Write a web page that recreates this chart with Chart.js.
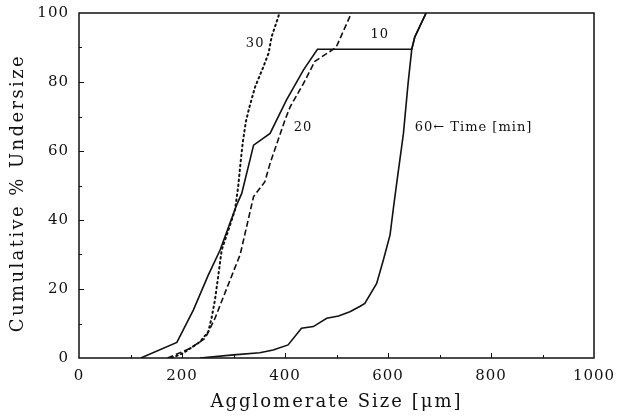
<!DOCTYPE html>
<html lang="en">
<head>
  <meta charset="utf-8">
  <title>Cumulative undersize</title>
  <script src="https://cdn.jsdelivr.net/npm/chart.js"></script>
  <style>
    body { margin: 0; background: #fff; }
  </style>
</head>
<body>
<canvas id="myChart" width="617" height="417"></canvas>
<script>
  // agglomerate size [um] and cumulative % undersize
  const size10 = [120, 190, 222, 251, 274, 306, 316, 339, 371, 403, 436, 463, 646, 652, 674];
  const pct10  = [0, 4.5, 13.9, 24, 31.3, 44.3, 47.7, 61.7, 65.1, 74.8, 83.5, 89.5, 89.5, 93, 100];

  const size20 = [172, 216, 245, 264, 283, 313, 339, 361, 371, 400, 410, 436, 458, 494, 500, 529];
  const pct20  = [0, 2.8, 5.7, 11.5, 18.7, 30, 46.8, 51.1, 56.4, 69, 72.8, 79.6, 86, 89.5, 90.3, 100];

  const size30 = [180, 202, 235, 251, 258, 264, 271, 277, 290, 303, 309, 314, 318, 324, 331, 342, 358, 368, 374, 387, 389];
  const pct30  = [0, 1.4, 4.7, 7.6, 12, 16.8, 24.5, 31.3, 37, 43, 49.6, 57, 62.5, 68.5, 72.8, 78.6, 84.4, 88.3, 93.1, 98.9, 100];

  const size60 = [235, 300, 351, 377, 406, 432, 455, 481, 504, 526, 546, 555, 578, 591, 604, 611, 619, 630, 639, 646, 652, 674];
  const pct60  = [0, 0.9, 1.5, 2.3, 3.8, 8.6, 9.1, 11.5, 12.2, 13.4, 15, 15.8, 21.6, 28.4, 35.7, 44, 53, 65.1, 79.6, 89.3, 93.1, 100];

  // curve labels: text, x, y (data units)
  const labelText = ['30', '20', '10', '60\u2190 Time [min]'];
  const labelX = [342, 435, 584, 652];
  const labelY = [91, 66.7, 93.6, 66.7];
  const labelAlign = ['center', 'center', 'center', 'left'];

  const xTitle = 'Agglomerate Size [\u03bcm]';
  const yTitle = 'Cumulative % Undersize';

  const toPoints = (xs, ys) => xs.map((x, i) => ({x: x, y: ys[i]}));

  const serif = 'DejaVu Serif';

  // frame, inward ticks, axis titles and curve labels
  const decor = {
    id: 'decor',
    beforeDraw(chart) {
      chart.ctx.letterSpacing = '1px';
    },
    afterDatasetsDraw(chart) {
      const {ctx, chartArea: a, scales: {x, y}} = chart;
      ctx.save();
      ctx.strokeStyle = '#111';
      ctx.lineWidth = 1.5;
      ctx.strokeRect(a.left, a.top, a.right - a.left, a.bottom - a.top);
      ctx.lineWidth = 1;
      ctx.beginPath();
      for (let v = 100; v < 1000; v += 100) {
        const px = Math.round(x.getPixelForValue(v)) + 0.5;
        const len = v % 200 === 0 ? 5 : 3;
        ctx.moveTo(px, a.bottom);
        ctx.lineTo(px, a.bottom - len);
      }
      for (let v = 10; v < 100; v += 10) {
        const py = Math.round(y.getPixelForValue(v)) + 0.5;
        const len = v % 20 === 0 ? 5 : 3;
        ctx.moveTo(a.left, py);
        ctx.lineTo(a.left + len, py);
      }
      ctx.stroke();

      ctx.fillStyle = '#111';
      ctx.font = '13px "' + serif + '"';
      ctx.letterSpacing = '1px';
      ctx.textBaseline = 'middle';
      labelText.forEach((t, i) => {
        ctx.textAlign = labelAlign[i];
        ctx.fillText(t, x.getPixelForValue(labelX[i]), y.getPixelForValue(labelY[i]));
      });

      ctx.font = '18px "' + serif + '"';
      ctx.letterSpacing = '2px';
      ctx.textAlign = 'center';
      ctx.textBaseline = 'alphabetic';
      ctx.fillText(xTitle, (a.left + a.right) / 2, 407);
      ctx.translate(23, 193);
      ctx.rotate(-Math.PI / 2);
      ctx.letterSpacing = '2.4px';
      ctx.fillText(yTitle, 0, 0);
      ctx.restore();
    }
  };

  const line = (xs, ys, dash, width) => ({
    data: toPoints(xs, ys),
    borderColor: '#111',
    borderWidth: width,
    borderDash: dash,
    pointRadius: 0,
    fill: false,
    tension: 0
  });

  const dotted = line(size30, pct30, [1.5, 3.5], 2);
  dotted.borderCapStyle = 'round';

  new Chart(document.getElementById('myChart'), {
    type: 'line',
    data: {
      datasets: [
        line(size10, pct10, [], 1.6),
        line(size20, pct20, [6, 3], 1.6),
        dotted,
        line(size60, pct60, [], 1.6)
      ]
    },
    options: {
      responsive: false,
      animation: false,
      layout: {padding: {top: 13, right: 23, left: 0, bottom: 0}},
      plugins: {legend: {display: false}, tooltip: {enabled: false}},
      scales: {
        x: {
          type: 'linear',
          min: 0, max: 1000,
          grid: {display: false, drawTicks: false},
          border: {display: false},
          ticks: {stepSize: 200, padding: 9, color: '#111', font: {family: serif, size: 15},
                  callback: v => String(v)},
          afterFit(s) { s.height = 59; s.paddingLeft = 0; s.paddingRight = 0; }
        },
        y: {
          min: 0, max: 100,
          grid: {display: false, drawTicks: false},
          border: {display: false},
          ticks: {stepSize: 20, padding: 10, color: '#111', font: {family: serif, size: 15},
                  callback: v => String(v)},
          afterFit(s) { s.width = 79; s.paddingTop = 0; s.paddingBottom = 0; }
        }
      }
    },
    plugins: [decor]
  });
</script>
</body>
</html>
